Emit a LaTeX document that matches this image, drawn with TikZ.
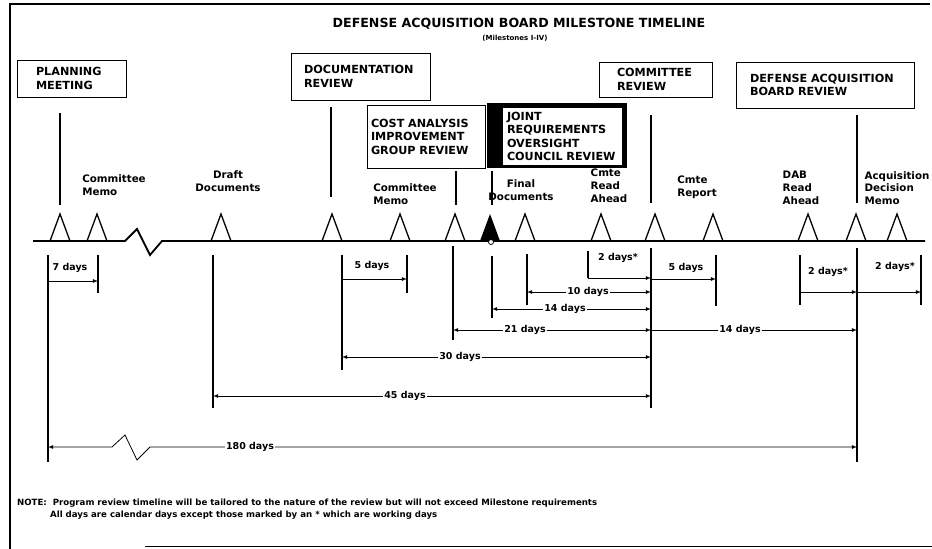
\documentclass[tikz,border=0pt]{standalone}
\usepackage{fontspec}
\setmainfont{DejaVu Sans}
\usetikzlibrary{positioning}

\begin{document}
\begin{tikzpicture}[x=1pt, y=-1pt,
boxnode/.style={rectangle, draw=black, thick, fill=white, inner sep=0pt, align=left, font=\fontsize{11.2}{13.5}\selectfont\bfseries},
labelnode/.style={inner sep=0pt, font=\fontsize{10.3}{12.8}\selectfont\bfseries},
daynode/.style={fill=white, inner sep=1.5pt, font=\fontsize{9.5}{11}\selectfont\bfseries},
guide/.style={line width=1.1pt},
span/.style={->, >=latex, line width=0.8pt},
twospan/.style={<->, >=latex, line width=0.8pt},
msnode/.style={line width=1.3pt, line join=miter},
]
\useasboundingbox (0,0) rectangle (932,549);
%frame
\draw[line width=1.2pt] (10,549) -- (10,4) -- (930,4);
\draw[line width=1pt] (145,546) -- (932,546);
%title
\node[font=\fontsize{12.6}{14}\selectfont\bfseries] (title) at (519,24) {DEFENSE ACQUISITION BOARD MILESTONE TIMELINE};
\node[font=\fontsize{7}{8}\selectfont\bfseries] (subtitle) at (515,38) {(Milestones I-IV)};
%nodes
\node[boxnode, minimum width=109pt, minimum height=37pt, text width=71pt] (plan) at (71.5,78.5) {PLANNING\\MEETING};
\node[boxnode, minimum width=139pt, minimum height=47pt, text width=113pt] (docrev) at (360.5,76.5) {DOCUMENTATION\\REVIEW};
\node[boxnode, minimum width=118pt, minimum height=63pt, text width=110pt] (caig) at (426,136.5) {COST ANALYSIS\\IMPROVEMENT\\GROUP REVIEW};
\node[rectangle, fill=black, minimum width=140pt, minimum height=65pt, inner sep=0pt] (jrocframe) at (557,135.5) {};
\node[boxnode, draw=none, minimum width=119pt, minimum height=57pt, text width=111pt] (jroc) at (562.5,136.5) {JOINT\\REQUIREMENTS\\OVERSIGHT\\COUNCIL REVIEW};
\node[boxnode, minimum width=113pt, minimum height=35pt, text width=77pt] (cmterev) at (655.5,79.5) {COMMITTEE\\REVIEW};
\node[boxnode, minimum width=178pt, minimum height=46pt, text width=150pt] (dabrev) at (825,85) {DEFENSE ACQUISITION\\BOARD REVIEW};
%labels above the timeline
\node[labelnode, align=left] (memo1) at (114,185) {Committee\\Memo};
\node[labelnode, align=center] (draft) at (228,181) {Draft\\Documents};
\node[labelnode, align=left] (memo2) at (405,194) {Committee\\Memo};
\node[labelnode, align=center] (final) at (521,190) {Final\\Documents};
\node[labelnode, align=left] (cmteread) at (609,186) {Cmte\\Read\\Ahead};
\node[labelnode, align=left] (cmterep) at (697,187) {Cmte\\Report};
\node[labelnode, align=left] (dabread) at (801,188) {DAB\\Read\\Ahead};
\node[labelnode, align=left] (acqmemo) at (897,188) {Acquisition\\Decision\\Memo};
%timeline
\draw[line width=1.8pt] (33,241) -- (125,241) -- (137,229) -- (150,255) -- (162,241) -- (925,241);
\foreach \x in {60,97,221,332,400,455,525,601,655,713,808,856,897}
  \draw[msnode] ({\x-10},241) -- (\x,214) -- ({\x+10},241);
\fill[msnode] (480,241) -- (490,214) -- (500,241) -- cycle;
\draw[fill=white, line width=0.8pt] (491,242) circle (2.5pt);
%connections
\foreach \x/\a/\b in {60/113/205, 331/107/197, 456/171/205, 492/171/205, 651/115/203, 857/115/203}
  \draw[guide] (\x,\a) -- (\x,\b);
\foreach \x/\a/\b in {48/255/462, 98/255/293, 213/255/408, 342/255/370, 407/255/293, 453/246/340, 492/256/318, 527/254/305, 588/251/278, 651/248/408, 716/255/306, 800/255/305, 857/248/462, 921/255/305}
  \draw[guide] (\x,\a) -- (\x,\b);
\draw[span] (48,281) -- (98,281);
\draw[span] (342,279) -- (407,279);
\draw[span] (588,278) -- (651,278);
\draw[span] (651,279) -- (716,279);
\draw[twospan] (527,292) -- (651,292);
\draw[twospan] (492,309) -- (651,309);
\draw[twospan] (453,330) -- (651,330);
\draw[span] (651,330) -- (857,330);
\draw[twospan] (342,357) -- (651,357);
\draw[twospan] (213,396) -- (651,396);
\draw[twospan] (48,447) -- (112,447) -- (125,435) -- (137,460) -- (150,447) -- (857,447);
\draw[span] (800,292) -- (857,292);
\draw[span] (857,292) -- (921,292);
%day labels
\node[daynode] (d7) at (70,268) {7 days};
\node[daynode] (d5a) at (372,266) {5 days};
\node[daynode] (d2a) at (618,258) {2 days*};
\node[daynode] (d5b) at (686,268) {5 days};
\node[daynode] (d10) at (588,292) {10 days};
\node[daynode] (d14a) at (565,309) {14 days};
\node[daynode] (d21) at (525,330) {21 days};
\node[daynode] (d14b) at (740,330) {14 days};
\node[daynode] (d30) at (460,357) {30 days};
\node[daynode] (d45) at (405,396) {45 days};
\node[daynode] (d180) at (250,447) {180 days};
\node[daynode] (d2b) at (828,272) {2 days*};
\node[daynode] (d2c) at (895,267) {2 days*};
%note
\node[anchor=west, inner sep=0pt, font=\fontsize{8.6}{10}\selectfont\bfseries] (note1) at (17,503) {NOTE:\ \ Program review timeline will be tailored to the nature of the review but will not exceed Milestone requirements};
\node[anchor=west, inner sep=0pt, font=\fontsize{8.6}{10}\selectfont\bfseries] (note2) at (50,515) {All days are calendar days except those marked by an * which are working days};
\end{tikzpicture}
\end{document}
